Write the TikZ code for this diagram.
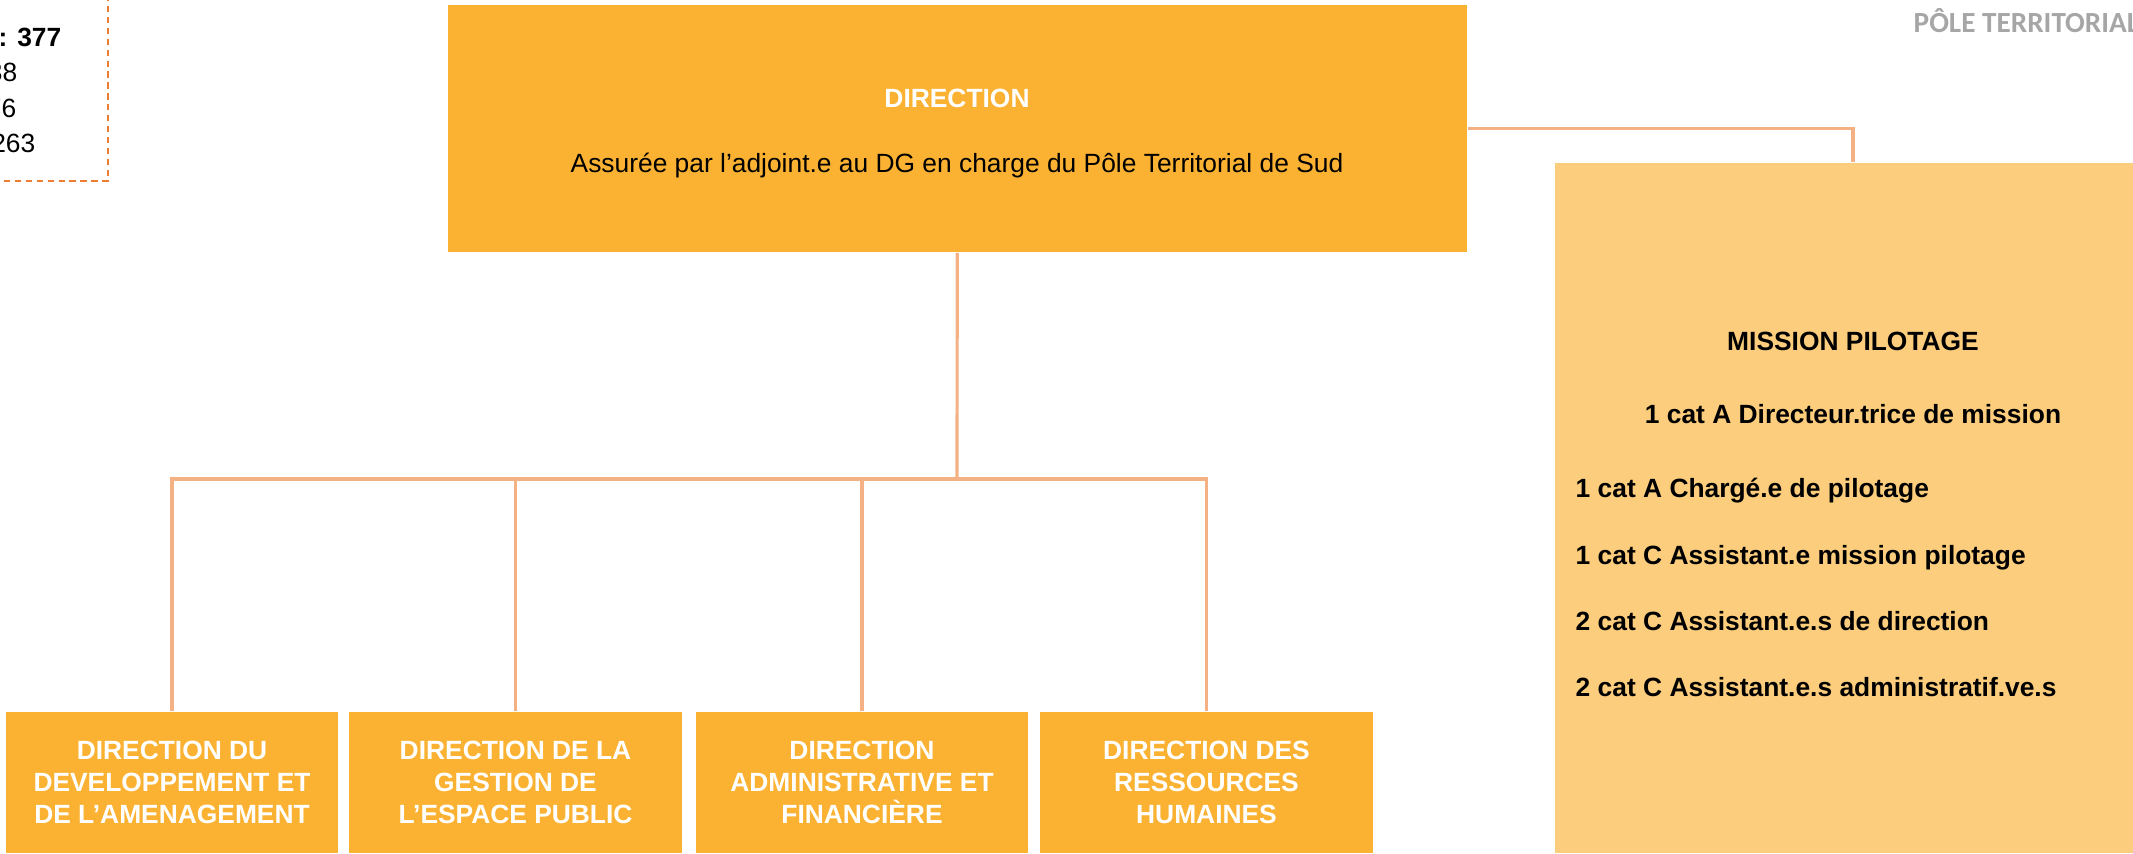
\documentclass[tikz,border=0pt]{standalone}
\usepackage{fontspec}
\setmainfont{Liberation Sans}
\newfontfamily\polefont{Carlito}
\usetikzlibrary{positioning}

\definecolor{dirorange}{RGB}{251,178,51}
\definecolor{misorange}{RGB}{251,205,124}
\definecolor{linkorange}{RGB}{244,177,131}
\definecolor{dashorange}{RGB}{237,125,49}
\definecolor{polegray}{RGB}{166,166,166}

\begin{document}
\begin{tikzpicture}[
    x=0.01cm, y=-0.01cm,
    dirbox/.style={rectangle, fill=dirorange, inner sep=0pt},
    subbox/.style={dirbox, minimum width=3.32cm, minimum height=1.41cm, align=center, text=white, font=\bfseries\fontsize{7.5}{9.1}\selectfont},
    misbox/.style={rectangle, fill=misorange, inner sep=0pt, minimum width=5.96cm, minimum height=6.9cm},
    txt/.style={inner sep=0pt, font=\fontsize{7.5}{9}\selectfont},
    btxt/.style={txt, font=\bfseries\fontsize{7.5}{9}\selectfont},
    link/.style={draw=linkorange, line width=0.9pt}
]
    \useasboundingbox (0,0) rectangle (2133,853);

    % effectifs
    \node[draw=dashorange, dashed, line width=0.6pt, dash pattern=on 1.8pt off 1.3pt, minimum width=3cm, minimum height=2.5cm, anchor=south east] (staff) at (109,182) {};
    \node[btxt, anchor=base east] (stot) at (62,46) {: 377};
    \node[txt, anchor=base east] (sa) at (18,81) {38};
    \node[txt, anchor=base east] (sb) at (17,117) {76};
    \node[txt, anchor=base east] (sc) at (36,152) {263};

    \node[inner sep=0pt, anchor=base west, text=polegray, font=\polefont\bfseries\fontsize{8.3}{10}\selectfont] (pole) at (1913,32) {PÔLE TERRITORIAL};

    % direction
    \node[dirbox, minimum width=10.185cm, minimum height=2.47cm] (dir) at (957.25,128.5) {};
    \node[btxt, anchor=base, text=white] (dirtitle) at (957,107) {DIRECTION};
    \node[txt, anchor=base] (dirsub) at (957,172) {Assurée par l’adjoint.e au DG en charge du Pôle Territorial de Sud};

    % mission pilotage
    \node[misbox] (mis) at (1853,508) {};
    \node[btxt, anchor=base] (mistitle) at (1853,350) {MISSION PILOTAGE};
    \node[btxt, anchor=base] (mis1) at (1853,423) {1 cat A Directeur.trice de mission};
    \node[btxt, anchor=base west] (mis2) at (1575,497) {1 cat A Chargé.e de pilotage};
    \node[btxt, anchor=base west] (mis3) at (1575,564) {1 cat C Assistant.e mission pilotage};
    \node[btxt, anchor=base west] (mis4) at (1575,630) {2 cat C Assistant.e.s de direction};
    \node[btxt, anchor=base west] (mis5) at (1575,696) {2 cat C Assistant.e.s administratif.ve.s};

    % directions
    \node[subbox] (dev) at (172,782.5) {DIRECTION DU\\DEVELOPPEMENT ET\\DE L’AMENAGEMENT};
    \node[subbox] (gep) at (515.5,782.5) {DIRECTION DE LA\\GESTION DE\\L’ESPACE PUBLIC};
    \node[subbox] (daf) at (862,782.5) {DIRECTION\\ADMINISTRATIVE ET\\FINANCIÈRE};
    \node[subbox] (drh) at (1206.5,782.5) {DIRECTION DES\\RESSOURCES\\HUMAINES};

    \coordinate (bus) at (957,479);
    \draw[link] (dir.south) -- (bus);
    \draw[link] (dev.north) |- (bus) -| (drh.north);
    \draw[link] (gep.north) -- (gep.north |- bus);
    \draw[link] (daf.north) -- (daf.north |- bus);
    \draw[link] (dir.east) -| (mis.north);
\end{tikzpicture}
\end{document}
